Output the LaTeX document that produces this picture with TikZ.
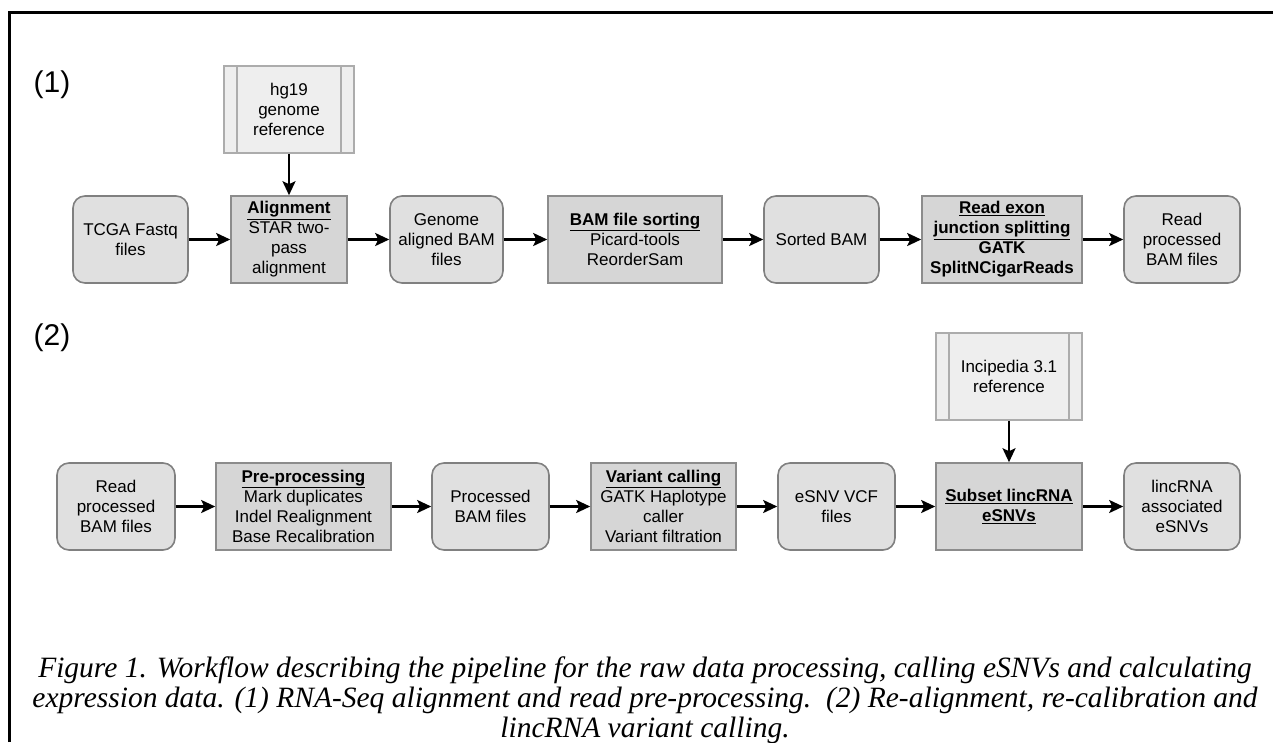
\documentclass[tikz,border=0pt]{standalone}
\usepackage{fontspec}
\setmainfont{Liberation Sans}
\newfontfamily\capfont{Liberation Serif}
\usetikzlibrary{arrows.meta}

\begin{document}
\begin{tikzpicture}[x=1pt,y=-1pt,
  font=\fontsize{17}{20}\selectfont,
  filebox/.style={draw=gray!100,fill=gray!24,line width=1.6pt,rounded corners=12pt,
    align=center,minimum height=87pt,inner sep=0pt},
  stagebox/.style={draw=gray!90,fill=gray!32,line width=1.6pt,
    align=center,minimum height=87pt,inner sep=0pt},
  refbox/.style={draw=gray!65,fill=gray!13,line width=1.6pt,
    align=center,minimum height=87pt,inner sep=0pt,
    path picture={\draw[gray!65,line width=1.6pt]
      ([xshift=13pt]path picture bounding box.north west) -- ([xshift=13pt]path picture bounding box.south west)
      ([xshift=-13pt]path picture bounding box.north east) -- ([xshift=-13pt]path picture bounding box.south east);}},
  flow/.style={-{Stealth[length=14pt,width=13pt,inset=3pt]},line width=2.2pt},
  panel/.style={font=\fontsize{30}{34}\selectfont}]
\useasboundingbox (0,0) rectangle (1273,742);
\draw[line width=3pt] (9.5,742) -- (9.5,12) -- (1273,12);

\node[panel] (lab1) at (52,85) {(1)};
\node[panel] (lab2) at (52,338) {(2)};

\node[refbox,minimum width=130pt] (hg19) at (289,109.5) {hg19\\genome\\reference};
\node[filebox,minimum width=115pt] (fastq) at (130.5,239.5) {TCGA Fastq\\files};
\node[stagebox,minimum width=116pt] (align) at (289,239.5) {\textbf{\underline{Alignment}}\\STAR two-\\pass\\alignment};
\node[filebox,minimum width=113pt] (genome) at (446.5,239.5) {Genome\\aligned BAM\\files};
\node[stagebox,minimum width=174pt] (sort) at (635,239.5) {\textbf{\underline{BAM file sorting}}\\Picard-tools\\ReorderSam};
\node[filebox,minimum width=115pt] (sorted) at (821.5,239.5) {Sorted BAM};
\node[stagebox,minimum width=160pt] (split) at (1002,239.5) {\textbf{\underline{Read exon}}\\\textbf{\underline{junction splitting}}\\\textbf{GATK}\\\textbf{SplitNCigarReads}};
\node[filebox,minimum width=116pt] (readbam) at (1182,239.5) {Read\\processed\\BAM files};

\draw[flow] (hg19) -- (align);
\draw[flow] (fastq) -- (align);
\draw[flow] (align) -- (genome);
\draw[flow] (genome) -- (sort);
\draw[flow] (sort) -- (sorted);
\draw[flow] (sorted) -- (split);
\draw[flow] (split) -- (readbam);

\node[refbox,minimum width=146pt] (incip) at (1009,376.5) {Incipedia 3.1\\reference};
\node[filebox,minimum width=118pt] (readbamb) at (116,506.5) {Read\\processed\\BAM files};
\node[stagebox,minimum width=175pt] (prep) at (303.5,506.5) {\textbf{\underline{Pre-processing}}\\Mark duplicates\\Indel Realignment\\Base Recalibration};
\node[filebox,minimum width=117pt] (procbam) at (490.5,506.5) {Processed\\BAM files};
\node[stagebox,minimum width=145pt] (call) at (663.5,506.5) {\textbf{\underline{Variant calling}}\\GATK Haplotype\\caller\\Variant filtration};
\node[filebox,minimum width=117pt] (vcf) at (836.5,506.5) {eSNV VCF\\files};
\node[stagebox,minimum width=146pt] (subset) at (1009,506.5) {\textbf{\underline{Subset lincRNA}}\\\textbf{\underline{eSNVs}}};
\node[filebox,minimum width=116pt] (linc) at (1182,506.5) {lincRNA\\associated\\eSNVs};

\draw[flow] (incip) -- (subset);
\draw[flow] (readbamb) -- (prep);
\draw[flow] (prep) -- (procbam);
\draw[flow] (procbam) -- (call);
\draw[flow] (call) -- (vcf);
\draw[flow] (vcf) -- (subset);
\draw[flow] (subset) -- (linc);

\node[font=\capfont\itshape\fontsize{29.5}{30}\selectfont,align=center] (caption) at (645,700)
  {Figure 1. Workflow describing the pipeline for the raw data processing, calling eSNVs and calculating\\
   expression data. (1) RNA-Seq alignment and read pre-processing.\ \ (2) Re-alignment, re-calibration and\\
   lincRNA variant calling.};
\end{tikzpicture}
\end{document}
